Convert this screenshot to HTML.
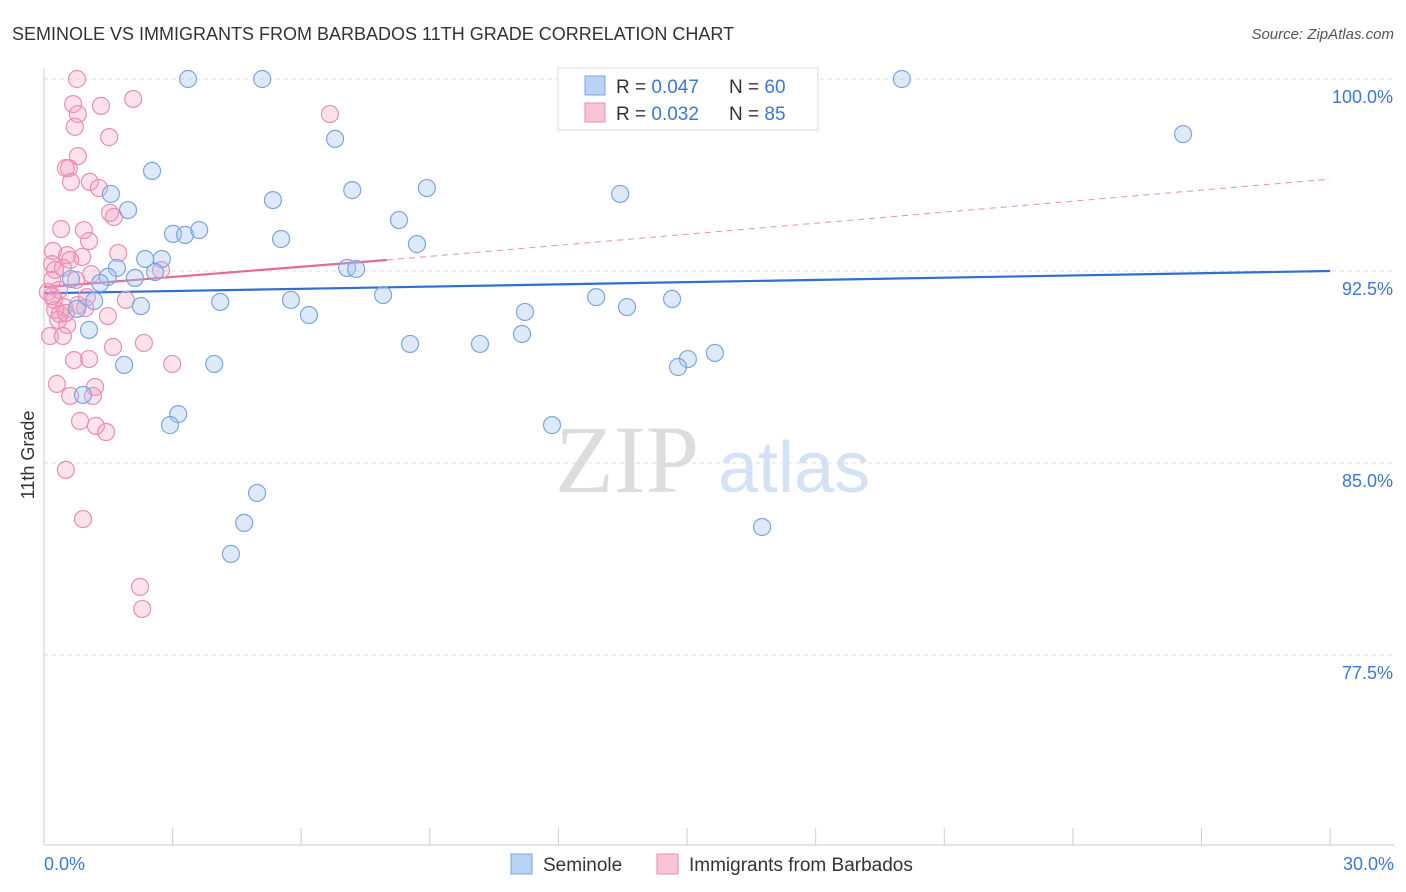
<!DOCTYPE html>
<html><head><meta charset="utf-8"><style>
body{margin:0;background:#fff;font-family:"Liberation Sans",sans-serif}
svg{display:block}
</style></head><body>
<svg id="chart" width="1406" height="892">
<text x="12" y="40" font-size="18" fill="#333">SEMINOLE VS IMMIGRANTS FROM BARBADOS 11TH GRADE CORRELATION CHART</text>
<text x="1394" y="39" font-size="15" fill="#555" text-anchor="end" font-style="italic">Source: ZipAtlas.com</text>
<g>
<text x="555" y="492" font-size="96" fill="#ddd" font-family="Liberation Serif,serif">ZIP</text>
<text x="718" y="492" font-size="72" fill="#d4e2f4">atlas</text>
</g>
<g id="grid"></g>
<g id="axes"></g>
<g id="trend"></g>
<g id="pts"></g>
<text x="34" y="455" font-size="18" fill="#333" text-anchor="middle" transform="rotate(-90 34 455)">11th Grade</text>
<g>
<rect x="558" y="68" width="260" height="62" fill="#fff" stroke="#ddd"/>
<rect x="585" y="76" width="20" height="19" fill="#b8d3f5" stroke="#7aa6e0"/>
<rect x="585" y="103" width="20" height="19" fill="#f8c4d6" stroke="#e98fb0"/>
<text x="616" y="93" font-size="19" fill="#333">R = <tspan fill="#3a78d4">0.047</tspan></text>
<text x="729" y="93" font-size="19" fill="#333">N = <tspan fill="#3a78d4">60</tspan></text>
<text x="616" y="120" font-size="19" fill="#333">R = <tspan fill="#3a78d4">0.032</tspan></text>
<text x="729" y="120" font-size="19" fill="#333">N = <tspan fill="#3a78d4">85</tspan></text>
</g>
<g>
<rect x="511" y="854" width="21" height="20" fill="#b8d3f5" stroke="#7aa6e0"/>
<text x="543" y="871" font-size="19" fill="#333">Seminole</text>
<rect x="657" y="854" width="21" height="20" fill="#f8c4d6" stroke="#e98fb0"/>
<text x="689" y="871" font-size="19" fill="#333">Immigrants from Barbados</text>
</g>
</svg>
<script>
const yTicks=[100,92.5,85,77.5];
const yTickLabels=["100.0%","92.5%","85.0%","77.5%"];
const blueX=[3.36,5.09,20.01,26.57,6.79,2.52,1.56,1.96,7.19,8.93,13.44,5.34,8.28,3.01,3.29,3.62,5.53,8.70,2.36,2.75,1.70,2.59,1.49,2.12,1.31,0.63,7.07,7.28,7.91,12.88,14.65,4.11,5.76,2.26,1.17,0.77,6.18,11.22,13.60,1.05,11.15,8.54,10.17,15.65,15.02,14.79,1.87,3.97,0.91,3.13,2.94,11.85,4.97,4.67,16.75,4.36];
const blueY=[100,100,100,97.85,97.66,96.41,95.51,94.88,95.66,95.74,95.51,95.27,94.49,93.95,93.91,94.10,93.75,93.55,92.97,92.97,92.62,92.46,92.27,92.23,92.03,92.19,92.62,92.58,91.56,91.48,91.41,91.29,91.37,91.13,91.33,91.02,90.78,90.90,91.09,90.20,90.04,89.65,89.65,89.30,89.06,88.75,88.83,88.87,87.66,86.91,86.48,86.48,83.83,82.66,82.50,81.45];
const pinkX=[0.77,6.67,0.68,1.33,2.08,0.79,0.72,1.52,0.79,0.58,0.51,0.63,1.07,1.28,1.54,1.63,0.40,0.93,1.05,1.73,0.21,0.54,0.89,0.61,0.19,0.44,0.26,1.10,2.73,0.19,0.75,0.35,0.09,0.23,1.00,1.91,0.79,0.47,0.26,0.37,0.54,1.49,0.14,0.44,0.70,1.05,2.33,1.61,2.99,0.30,1.19,0.61,1.14,0.84,1.21,1.45,0.51,0.91,2.24,2.29,0.19,0.33,0.51,0.96];
const pinkY=[100,98.63,99.02,98.95,99.22,98.63,98.13,97.73,96.99,96.52,96.52,95.98,95.98,95.74,94.77,94.61,94.14,94.10,93.67,93.20,93.28,93.12,93.05,92.93,92.77,92.62,92.54,92.38,92.54,92.15,92.15,91.76,91.68,91.37,91.48,91.37,91.17,91.09,90.98,90.82,90.39,90.74,89.96,89.96,89.02,89.06,89.69,89.53,88.87,88.09,87.97,87.62,87.62,86.64,86.45,86.21,84.73,82.81,80.16,79.30,91.52,90.59,90.86,91.05];
const blueTrend=[91.63,92.50];
const pinkTrend=[91.87,92.93,96.09];
const NS="http://www.w3.org/2000/svg";
const X=v=>44+v*42.87, Y=v=>79+(100-v)*25.6;
function mk(t,a,p){const e=document.createElementNS(NS,t);for(const k in a)e.setAttribute(k,a[k]);p.appendChild(e);return e;}
const grid=document.getElementById('grid'),axes=document.getElementById('axes');
yTicks.forEach((t,i)=>{
 const l=mk('line',{x1:44,x2:1394,y1:Y(t),y2:Y(t),stroke:'#ddd','stroke-dasharray':'4 4'},grid);
 
 
 const tx=mk('text',{x:1393,y:Y(t)+24,'font-size':18,fill:'#3a78d4','text-anchor':'end'},axes);
 tx.textContent=yTickLabels[i];
 
 
});
mk('line',{x1:44,x2:44,y1:68,y2:845,stroke:'#ccc'},axes);
mk('line',{x1:44,x2:1394,y1:845,y2:845,stroke:'#ccc'},axes);
for(let i=0;i<=10;i++){mk('line',{x1:X(i*3),x2:X(i*3),y1:828,y2:845,stroke:'#ccc'},axes);}
let t0=mk('text',{x:44,y:870,'font-size':18,fill:'#3a78d4'},axes);t0.textContent='0.0%';


let t1=mk('text',{x:1394,y:870,'font-size':18,fill:'#3a78d4','text-anchor':'end'},axes);t1.textContent='30.0%';


const pts=document.getElementById('pts');
pinkX.forEach((x,i)=>{const c=mk('circle',{cx:X(x),cy:Y(pinkY[i]),r:8.5,fill:'rgba(244,160,192,0.3)',stroke:'#e98fb0','stroke-width':1.2},pts);
 
 });
blueX.forEach((x,i)=>{const c=mk('circle',{cx:X(x),cy:Y(blueY[i]),r:8.5,fill:'rgba(160,196,240,0.35)',stroke:'#7aa6e0','stroke-width':1.2},pts);
 
 });
const tr=document.getElementById('trend');
const bl=mk('line',{x1:X(0),x2:X(30),y1:Y(blueTrend[0]),y2:Y(blueTrend[1]),stroke:'#2f6fd0','stroke-width':2.2},tr);


const pl=mk('line',{x1:X(0),x2:X(8),y1:Y(pinkTrend[0]),y2:Y(pinkTrend[1]),stroke:'#e36a98','stroke-width':2.2},tr);


const pd=mk('line',{x1:X(8),x2:X(30),y1:Y(pinkTrend[1]),y2:Y(pinkTrend[2]),stroke:'#e98fb0','stroke-width':1,'stroke-dasharray':'6 5'},tr);


</script>
</body></html>
